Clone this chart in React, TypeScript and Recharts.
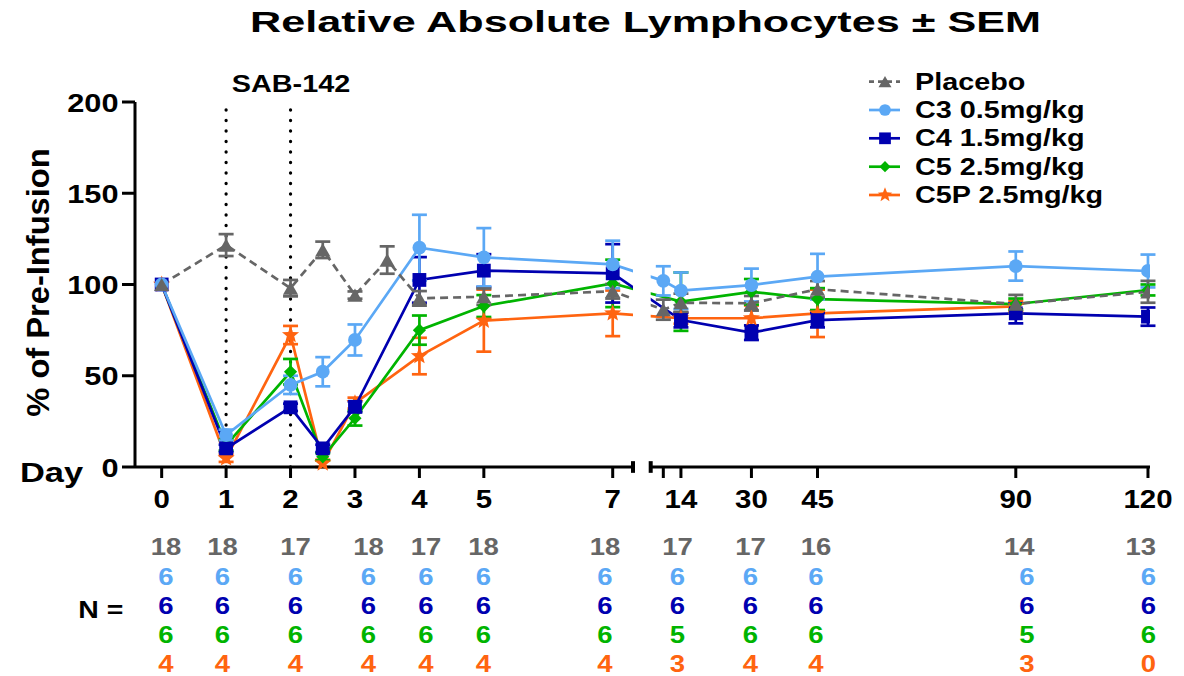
import React from 'react';
import { LineChart, Line, XAxis, YAxis, ErrorBar, ReferenceLine } from 'recharts';

// ---------- text ----------
const TITLE = 'Relative Absolute Lymphocytes ± SEM';
const Y_LABEL = '% of Pre-Infusion';
const DOSING_LABEL = 'SAB-142';
const DAY_LABEL = 'Day';
const N_LABEL = 'N =';

// ---------- axes ----------
const DOSING_DAYS = [1, 2];
const LEFT_TICK_DAYS = [0, 1, 2, 3, 4, 5, 7];
const RIGHT_TICK_DAYS = [10, 14, 30, 45, 90, 120];
const TICK_LABELS = ['0', '1', '2', '3', '4', '5', '7', '', '14', '30', '45', '90', '120'];
const Y_TICKS = [0, 50, 100, 150, 200];

// ---------- series ----------
const placeboDays = [0, 1, 2, 2.5, 3, 3.5, 4, 5, 7, 10, 14, 30, 45, 90, 120];
const placeboValues = [100, 121.6, 98, 119, 94.2, 113.4, 92.4, 93.3, 96.3, 86.2, 90, 89.7, 97.4, 89.3, 96];
const placeboSem = [0, 6, 4.5, 4.5, 2, 7.5, 4, 4.5, 4, 5.5, 5, 4, 4.5, 5, 6];

const c3Days = [0, 1, 2, 2.5, 3, 4, 5, 7, 10, 14, 30, 45, 90, 120];
const c3Values = [100, 17.5, 45, 52.2, 69.6, 120.2, 114.9, 111, 102, 96.6, 99.7, 104.3, 110.1, 107.4];
const c3Sem = [0, 3, 5, 8, 8.5, 18, 16, 13, 8, 10, 9, 12.5, 8, 9];

const c4Days = [0, 1, 2, 2.5, 3, 4, 5, 7, 14, 30, 45, 90, 120];
const c4Values = [100, 10.2, 32.7, 10.2, 33, 102.5, 107.6, 106.1, 80.5, 73.6, 80.5, 84.2, 82.4];
const c4Sem = [0, 2, 2, 2, 3, 12.5, 9, 16, 4, 4, 4, 5.5, 5];

const c5Days = [0, 1, 2, 2.5, 3, 4, 5, 7, 14, 30, 45, 90, 120];
const c5Values = [100, 12, 52.2, 5.6, 26.7, 75, 88.2, 100.6, 90.6, 96, 92, 89.3, 97];
const c5Sem = [0, 3, 7, 2, 4, 8, 6, 13, 16, 7, 6, 3, 3];

const c5pDays = [0, 1, 2, 2.5, 3, 4, 5, 7, 14, 30, 45, 90];
const c5pValues = [100, 4.8, 72.3, 2, 35, 60.8, 80.2, 84.2, 81.5, 81.5, 84.2, 88];
const c5pSem = [0, 2, 5, 2, 3, 10, 17, 12.5, 3, 7, 13, 3];

// ---------- N table ----------
const nPlacebo = [18, 18, 17, 18, 17, 18, 18, 17, 17, 16, 14, 13];
const nC3 = [6, 6, 6, 6, 6, 6, 6, 6, 6, 6, 6, 6];
const nC4 = [6, 6, 6, 6, 6, 6, 6, 6, 6, 6, 6, 6];
const nC5 = [6, 6, 6, 6, 6, 6, 6, 5, 6, 6, 5, 6];
const nC5P = [4, 4, 4, 4, 4, 4, 4, 3, 4, 4, 3, 0];

// ---------- styles / layout ----------
const FONT = "'Liberation Sans', Arial, Helvetica, sans-serif";
const GREY = '#666666';
const LBLUE = '#5BA8F5';
const DBLUE = '#0000B0';
const GREEN = '#00B400';
const ORANGE = '#FF6410';

const SERIES = [
  { name: 'C5P 2.5mg/kg', days: c5pDays, values: c5pValues, sem: c5pSem, color: ORANGE, shape: 'star', dash: undefined as string | undefined, n: nC5P },
  { name: 'C5 2.5mg/kg', days: c5Days, values: c5Values, sem: c5Sem, color: GREEN, shape: 'diamond', dash: undefined, n: nC5 },
  { name: 'C4 1.5mg/kg', days: c4Days, values: c4Values, sem: c4Sem, color: DBLUE, shape: 'square', dash: undefined, n: nC4 },
  { name: 'C3 0.5mg/kg', days: c3Days, values: c3Values, sem: c3Sem, color: LBLUE, shape: 'circle', dash: undefined, n: nC3 },
  { name: 'Placebo', days: placeboDays, values: placeboValues, sem: placeboSem, color: GREY, shape: 'triangle', dash: '8 5', n: nPlacebo },
];
const LEGEND_ORDER = ['Placebo', 'C3 0.5mg/kg', 'C4 1.5mg/kg', 'C5 2.5mg/kg', 'C5P 2.5mg/kg'];

// broken x axis: days 0..7 on a wide scale, days >= 10 compressed
const GAP_7_TO_10 = 50.6 / 64.5;
const RIGHT_UNIT = 4.406 / 64.5;
const toAxis = (day: number) => (day <= 7 ? day : 7 + GAP_7_TO_10 + (day - 10) * RIGHT_UNIT);
const LEFT_DOMAIN: [number, number] = [-0.414, 7.315];
const RIGHT_DOMAIN: [number, number] = [7.589, 15.33];

const ALL_TICK_DAYS = [...LEFT_TICK_DAYS, ...RIGHT_TICK_DAYS];
const labelForPos = (pos: number) => {
  const i = ALL_TICK_DAYS.findIndex((d) => Math.abs(toAxis(d) - pos) < 1e-6);
  return i >= 0 ? TICK_LABELS[i] : '';
};

function buildRows(s: typeof SERIES[number], side: 'left' | 'right') {
  const rows = s.days.map((d, i) => ({ day: d, pos: toAxis(d), v: s.values[i], e: s.sem[i] as number | undefined, show: true }));
  const firstAfter = rows.findIndex((r) => r.day > 7);
  let lastBefore = -1;
  rows.forEach((r, i) => { if (r.day <= 7) lastBefore = i; });
  if (side === 'left') {
    return rows.slice(0, firstAfter >= 0 ? firstAfter + 1 : rows.length).map((r) => (r.day > 7 ? { ...r, e: undefined, show: false } : r));
  }
  return rows.slice(lastBefore).map((r) => (r.day <= 7 ? { ...r, e: undefined, show: false } : r));
}

function ST({ x, y, size, sx = 1, anchor = 'start', fill = '#000', rotate, children }: any) {
  const tf = `translate(${x},${y})${rotate ? ` rotate(${rotate})` : ''} scale(${sx},1)`;
  return (
    <text transform={tf} textAnchor={anchor} fontSize={size} fontWeight="bold" fontFamily={FONT} fill={fill}>
      {children}
    </text>
  );
}

function Marker({ shape, cx, cy, color, s = 1 }: any) {
  if (shape === 'circle') return <circle cx={cx} cy={cy} r={6.9 * s} fill={color} />;
  if (shape === 'square') {
    const h = 6.9 * s;
    return <rect x={cx - h} y={cy - h} width={2 * h} height={2 * h} fill={color} />;
  }
  if (shape === 'triangle') {
    const w = 7.6 * s, h = 6.6 * s;
    return <polygon points={`${cx},${cy - h} ${cx + w},${cy + h} ${cx - w},${cy + h}`} fill={color} />;
  }
  if (shape === 'diamond') {
    const h = 6.6 * s;
    return <polygon points={`${cx},${cy - h} ${cx + h},${cy} ${cx},${cy + h} ${cx - h},${cy}`} fill={color} />;
  }
  const pts: string[] = [];
  for (let k = 0; k < 10; k++) {
    const r = (k % 2 === 0 ? 9 : 3.9) * s;
    const a = -Math.PI / 2 + (k * Math.PI) / 5;
    pts.push(`${cx + r * Math.cos(a)},${cy + r * Math.sin(a)}`);
  }
  return <polygon points={pts.join(' ')} fill={color} />;
}

const makeDot = (shape: string, color: string) => (p: any) => {
  const key = `d-${p.index}`;
  if (!p.payload || !p.payload.show || p.cx == null || p.cy == null) return <g key={key} />;
  return <g key={key}><Marker shape={shape} cx={p.cx} cy={p.cy} color={color} /></g>;
};

const XTick = (props: any) => {
  const { x, y, payload } = props;
  const label = labelForPos(payload.value);
  if (!label) return <g />;
  return <ST x={x} y={y + 30.3} size={25.6} sx={1.15} anchor="middle">{label}</ST>;
};

const YTick = (props: any) => {
  const { x, y, payload } = props;
  return <ST x={x} y={y + 9.5} size={25.6} sx={1.2} anchor="end">{String(payload.value)}</ST>;
};

const AXIS_LINE = { stroke: '#000', strokeWidth: 3 };

function renderLines(side: 'left' | 'right') {
  return SERIES.map((s) => (
    <Line
      key={s.name + side}
      data={buildRows(s, side)}
      dataKey="v"
      type="linear"
      stroke={s.color}
      strokeWidth={2.7}
      strokeDasharray={s.dash}
      dot={makeDot(s.shape, s.color)}
      activeDot={false}
      isAnimationActive={false}
    >
      <ErrorBar dataKey="e" width={7.5} strokeWidth={2.7} stroke={s.color} direction="y" isAnimationActive={false} />
    </Line>
  ));
}

const N_COL_X = [166, 222.5, 295.5, 368.5, 426, 483.5, 605, 677.5, 750.5, 816, 1034.5, 1156];
const N_COL_ANCHOR = ['middle', 'middle', 'middle', 'middle', 'middle', 'middle', 'middle', 'middle', 'middle', 'middle', 'end', 'end'];
const N_ROW_Y = [555, 584.5, 614, 643, 671.5];
const LEGEND_ROW_Y = [81.7, 110, 138.3, 166.7, 195];

export default function App() {
  const leftTicks = LEFT_TICK_DAYS.map(toAxis);
  const rightTicks = RIGHT_TICK_DAYS.map(toAxis);
  const byName = (n: string) => SERIES.find((s) => s.name === n)!;
  return (
    <div style={{ position: 'fixed', left: 0, top: 0, width: 1184, height: 676, background: '#fff' }}>
      <div style={{ position: 'absolute', left: 0, top: 0 }}>
        <LineChart width={640} height={560} margin={{ top: 102, right: 7, bottom: 53, left: 0 }}>
          <XAxis
            type="number"
            dataKey="pos"
            domain={LEFT_DOMAIN}
            allowDataOverflow
            ticks={leftTicks}
            interval={0}
            tick={<XTick />}
            tickSize={11}
            tickMargin={0}
            tickLine={AXIS_LINE}
            axisLine={AXIS_LINE}
            height={40}
          />
          <YAxis
            type="number"
            domain={[0, 200]}
            ticks={Y_TICKS}
            interval={0}
            width={135}
            tick={<YTick />}
            tickSize={13}
            tickMargin={3.5}
            tickLine={AXIS_LINE}
            axisLine={AXIS_LINE}
          />
          {DOSING_DAYS.map((d) => (
            <ReferenceLine key={d} x={toAxis(d)} stroke="#000" strokeWidth={3.3} strokeDasharray="0 10.5" strokeLinecap="round" />
          ))}
          <ReferenceLine
            segment={[{ x: LEFT_DOMAIN[1], y: -3.2 }, { x: LEFT_DOMAIN[1], y: 3.2 }]}
            stroke="#000"
            strokeWidth={4}
            ifOverflow="visible"
          />
          {renderLines('left')}
        </LineChart>
      </div>
      <div style={{ position: 'absolute', left: 600, top: 0 }}>
        <LineChart width={584} height={560} margin={{ top: 102, right: 34, bottom: 53, left: 50.7 }}>
          <XAxis
            type="number"
            dataKey="pos"
            domain={RIGHT_DOMAIN}
            allowDataOverflow
            ticks={rightTicks}
            interval={0}
            tick={<XTick />}
            tickSize={11}
            tickMargin={0}
            tickLine={AXIS_LINE}
            axisLine={AXIS_LINE}
            height={40}
          />
          <YAxis type="number" domain={[0, 200]} hide />
          <ReferenceLine
            segment={[{ x: RIGHT_DOMAIN[0], y: -3.2 }, { x: RIGHT_DOMAIN[0], y: 3.2 }]}
            stroke="#000"
            strokeWidth={4}
            ifOverflow="visible"
          />
          {renderLines('right')}
        </LineChart>
      </div>
      <svg width={1184} height={676} style={{ position: 'absolute', left: 0, top: 0, pointerEvents: 'none' }}>
        <ST x={645.5} y={31.7} size={30} sx={1.44} anchor="middle">{TITLE}</ST>
        <ST x={291} y={91.7} size={24} sx={1.2} anchor="middle">{DOSING_LABEL}</ST>
        <ST x={49} y={282.5} size={32} sx={1.02} anchor="middle" rotate={-90}>{Y_LABEL}</ST>
        <ST x={20} y={481.7} size={28} sx={1.23}>{DAY_LABEL}</ST>
        <ST x={78.3} y={618.3} size={24.5} sx={1.16}>{N_LABEL}</ST>
        {LEGEND_ORDER.map((name, r) => {
          const s = byName(name);
          return (
            <g key={name}>
              <line x1={869} x2={900} y1={LEGEND_ROW_Y[r]} y2={LEGEND_ROW_Y[r]} stroke={s.color} strokeWidth={2.7} strokeDasharray={s.dash ? '5 4' : undefined} />
              <Marker shape={s.shape} cx={885} cy={LEGEND_ROW_Y[r]} color={s.color} s={0.85} />
              <ST x={915} y={LEGEND_ROW_Y[r] + 8} size={24.6} sx={1.17}>{name}</ST>
            </g>
          );
        })}
        {LEGEND_ORDER.map((name, r) => {
          const s = byName(name);
          return s.n.map((v, c) => (
            <ST key={name + c} x={N_COL_X[c]} y={N_ROW_Y[r]} size={23.3} sx={1.18} anchor={N_COL_ANCHOR[c]} fill={s.color}>
              {String(v)}
            </ST>
          ));
        })}
      </svg>
    </div>
  );
}
